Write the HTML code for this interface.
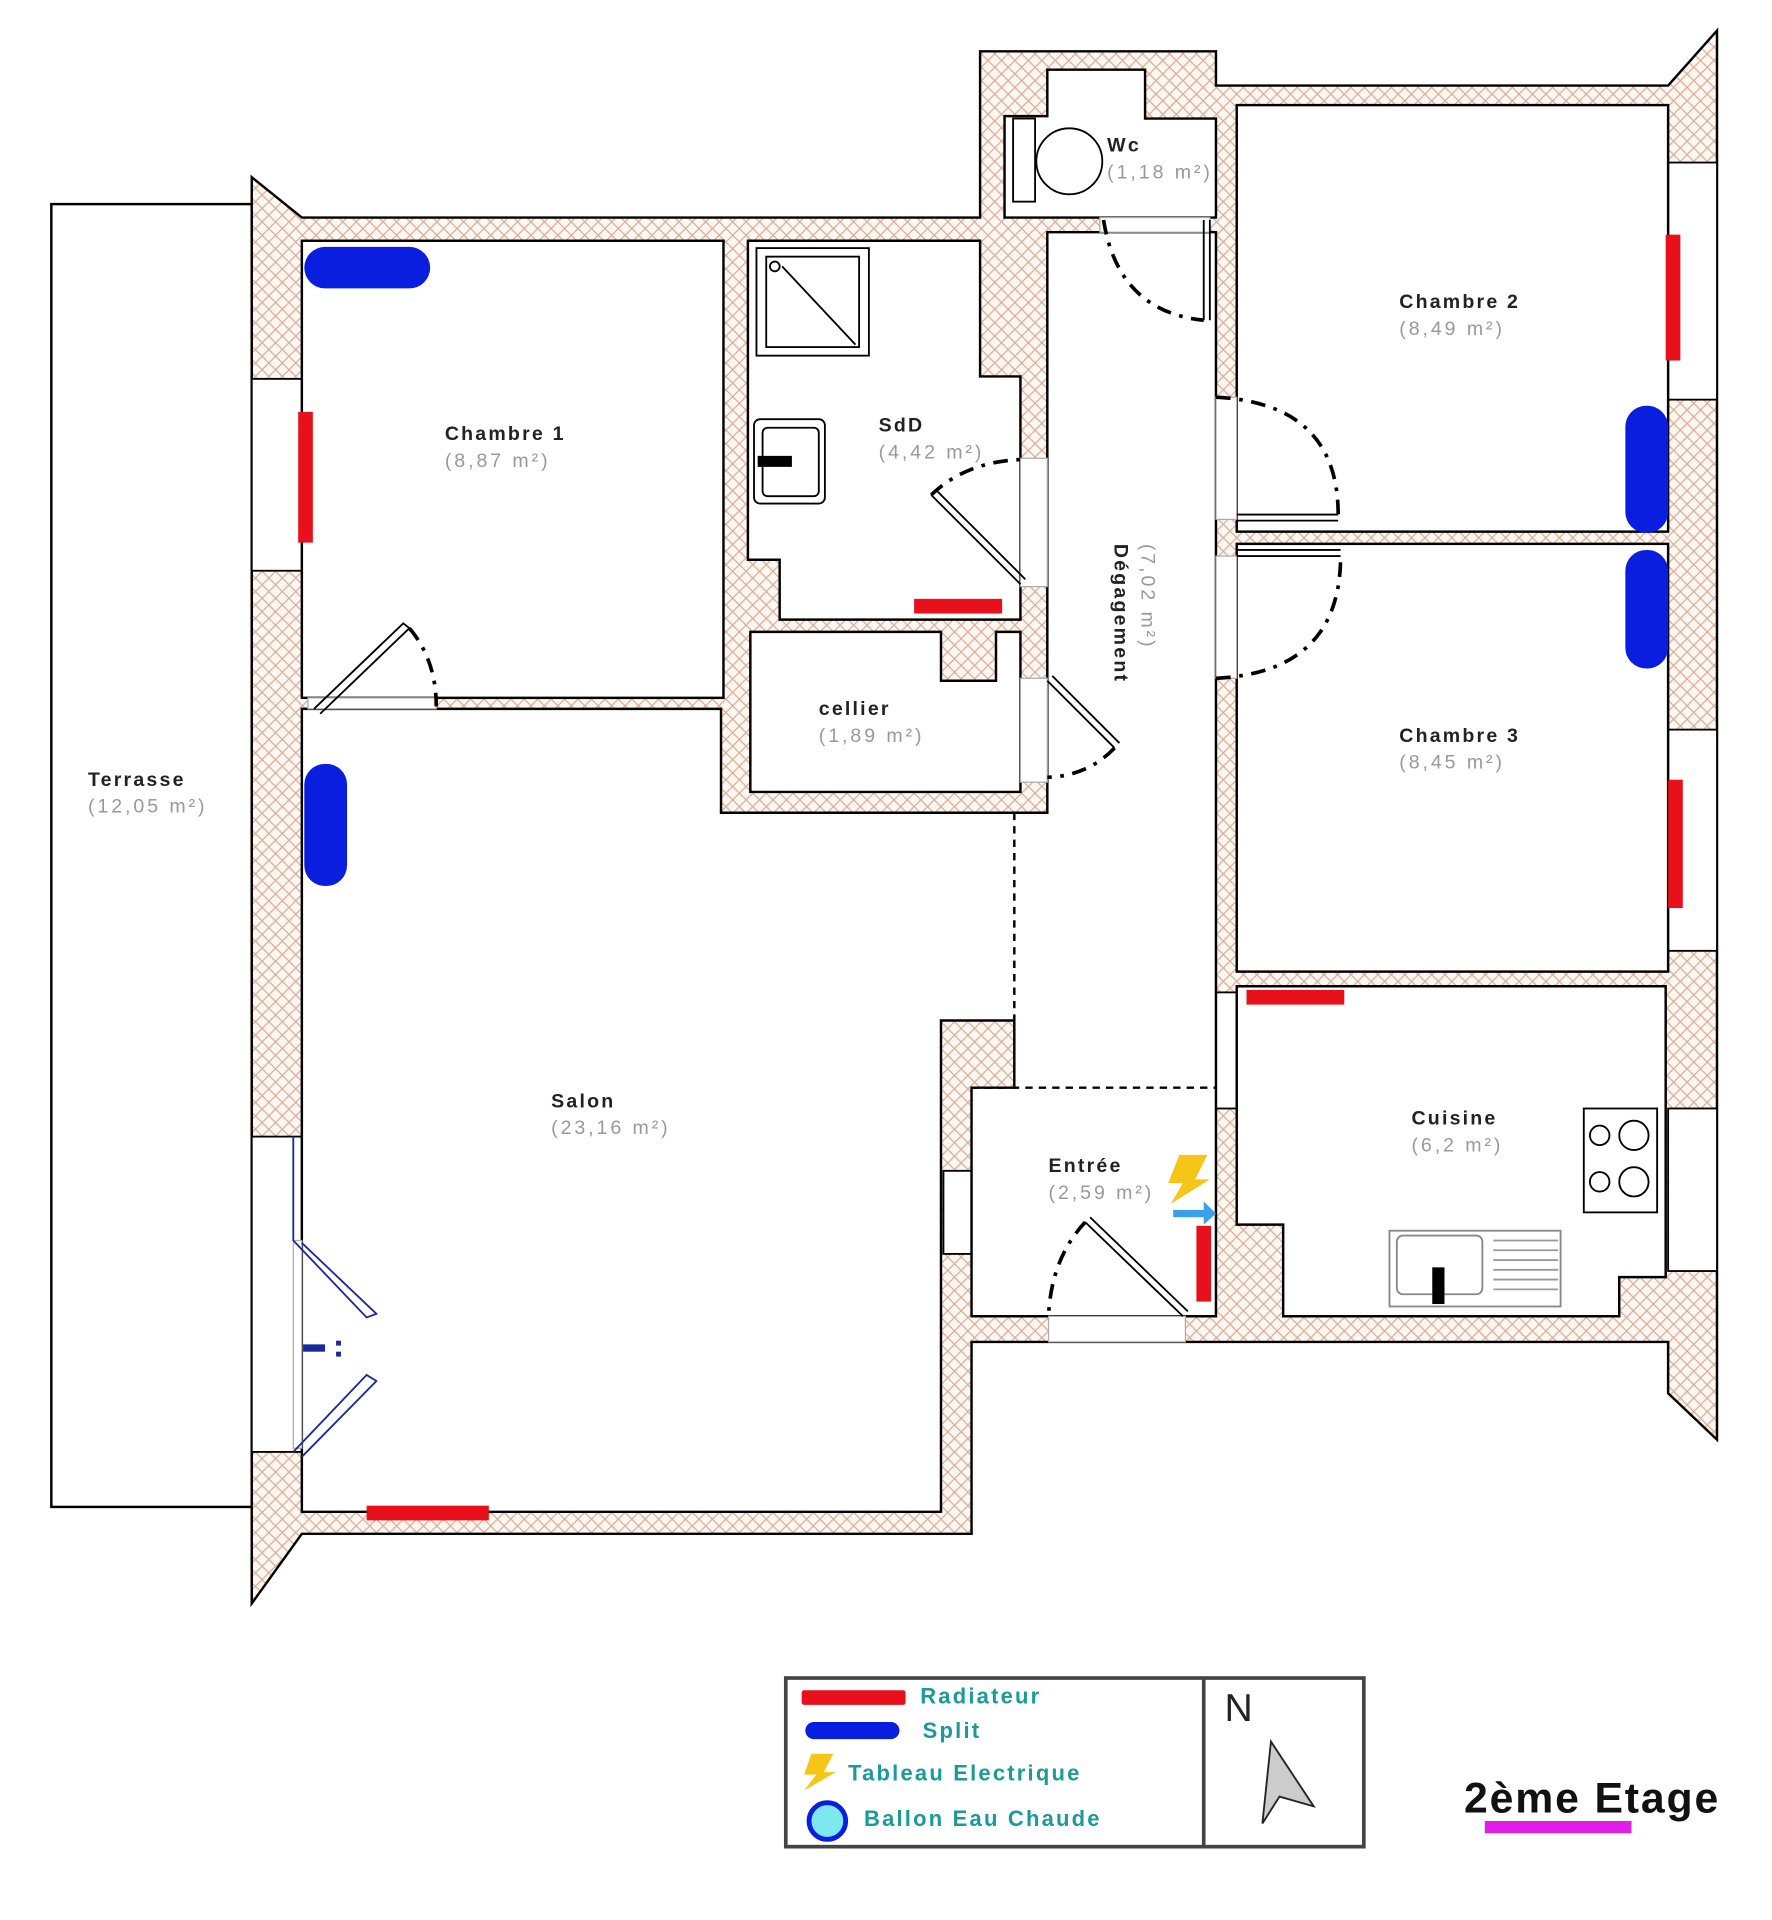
<!DOCTYPE html>
<html><head><meta charset="utf-8"><style>
html,body{margin:0;padding:0;background:#fff;}
svg{display:block;}
text{font-family:"Liberation Sans",sans-serif;}
.l{font-weight:bold;font-size:16px;fill:#222;letter-spacing:1.8px;}
.a{font-size:16px;fill:#999;letter-spacing:2.4px;}
.lg{font-weight:bold;font-size:18px;fill:#1a9a9a;letter-spacing:1.8px;}
</style></head><body>
<svg width="1772" height="1920" viewBox="0 0 1450 1571" preserveAspectRatio="none" xmlns="http://www.w3.org/2000/svg">
<defs>
<pattern id="h" width="11" height="11" patternUnits="userSpaceOnUse">
<rect width="11" height="11" fill="#fdf7f2"/>
<path d="M0,0L11,11M11,0L0,11" stroke="#dcab94" stroke-width="1"/>
</pattern>
</defs>
<rect width="1450" height="1571" fill="#fff"/>
<rect x="42" y="167" width="164" height="1066" fill="#fff" stroke="#000" stroke-width="2"/>
<text class="l" x="72" y="643">Terrasse</text><text class="a" x="72" y="665">(12,05 m²)</text>
<polygon points="206,145 247,178 802,178 802,42 995,42 995,70 1365,70 1405,25 1405,1178 1365,1140 1365,1098 795,1098 795,1255 247,1255 206,1312" fill="url(#h)" stroke="#000" stroke-width="2"/>
<g fill="#fff" stroke="#000" stroke-width="1.5">
<rect x="206" y="310" width="41" height="157"/>
<rect x="206" y="930" width="41" height="258"/>
<rect x="1365" y="133" width="40" height="194"/>
<rect x="1365" y="597" width="40" height="181"/>
<rect x="1365" y="907" width="40" height="133"/>
<rect x="772" y="958" width="23" height="68"/>
<rect x="995" y="812" width="17" height="95"/>
</g>
<g fill="#fff" stroke="#000" stroke-width="2">
<rect x="247" y="197" width="345" height="374"/>
<polygon points="247,580 590,580 590,665 857,665 857,190 995,190 995,1077 795,1077 795,890 830,890 830,835 770,835 770,1237 247,1237"/>
<polygon points="612,197 802,197 802,308 835,308 835,507 638,507 638,458 612,458"/>
<polygon points="614,517 770,517 770,557 815,557 815,517 835,517 835,648 614,648"/>
<polygon points="857,57 937,57 937,97 995,97 995,178 822,178 822,95 857,95"/>
<rect x="1012" y="86" width="353" height="349"/>
<rect x="1012" y="445" width="353" height="350"/>
<polygon points="1012,807 1363,807 1363,1045 1325,1045 1325,1077 1050,1077 1050,1002 1012,1002"/>
</g>
<g fill="#fff" stroke="#aaa" stroke-width="1">
<rect x="252" y="571" width="105" height="9"/>
<rect x="835" y="375" width="22" height="105"/>
<rect x="835" y="555" width="22" height="85"/>
<rect x="995" y="325" width="17" height="100"/>
<rect x="995" y="455" width="17" height="100"/>
<rect x="858" y="1077" width="112" height="21"/>
<rect x="900" y="178" width="90" height="12"/>
<rect x="240" y="1015" width="7" height="170"/>
</g>
<g stroke="#000" stroke-width="2" stroke-dasharray="6,5" fill="none">
<line x1="830" y1="665" x2="830" y2="835"/>
<line x1="795" y1="890" x2="995" y2="890"/>
</g>
<g stroke="#000" stroke-width="1.5" fill="none">
<path d="M257,580 L330,510 L335,514 L262,584"/>
<path d="M762,405 L835,478 M766,401 L839,474"/>
<path d="M857,557 L912,612 M861,553 L916,608"/>
<path d="M888,1000 L968,1077 M892,996 L972,1073"/>
<path d="M985,180 L985,262 M990,180 L990,262"/>
<path d="M1012,421 L1095,421 M1012,426 L1095,426"/>
<path d="M1012,450 L1097,450 M1012,455 L1097,455"/>
<path d="M240,930 L240,1015 L300,1078 L308,1075 L247,1017 M240,1188 L300,1125 L308,1130 L247,1192" stroke="#1a2a9a"/>
</g>
<g stroke="#000" stroke-width="3" fill="none" stroke-dasharray="12,7,3,7">
<path d="M335,514 Q357,540 357,578"/>
<path d="M762,405 Q790,378 835,376"/>
<path d="M912,612 Q890,635 857,636"/>
<path d="M888,1000 Q860,1030 858,1077"/>
<path d="M903,180 Q915,255 985,262"/>
<path d="M995,325 Q1095,330 1095,421"/>
<path d="M995,555 Q1097,550 1097,455"/>
</g>
<g fill="#1a2a9a"><rect x="248" y="1100" width="18" height="6"/><rect x="275" y="1097" width="4" height="4"/><rect x="275" y="1106" width="4" height="4"/></g>
<g fill="none" stroke="#000" stroke-width="1.5">
<rect x="619" y="203" width="92" height="88"/><rect x="627" y="210" width="76" height="74"/>
<line x1="640" y1="218" x2="700" y2="282"/><circle cx="634" cy="218" r="4"/>
<rect x="617" y="343" width="58" height="69" rx="5"/><rect x="624" y="350" width="46" height="56" rx="4"/>
<rect x="829" y="97" width="18" height="68"/><ellipse cx="875" cy="132" rx="27" ry="27"/>
<rect x="1296" y="907" width="60" height="85"/>
<circle cx="1309" cy="929" r="8"/><circle cx="1337" cy="929" r="12"/><circle cx="1309" cy="967" r="8"/><circle cx="1337" cy="967" r="12"/>
<rect x="1137" y="1007" width="140" height="62" stroke="#888"/><rect x="1143" y="1011" width="70" height="48" rx="5" stroke="#888"/>
</g>
<g stroke="#999" stroke-width="1.5"><line x1="1222" y1="1015" x2="1275" y2="1015"/><line x1="1222" y1="1023" x2="1275" y2="1023"/><line x1="1222" y1="1031" x2="1275" y2="1031"/><line x1="1222" y1="1039" x2="1275" y2="1039"/><line x1="1222" y1="1047" x2="1275" y2="1047"/><line x1="1222" y1="1055" x2="1275" y2="1055"/></g>
<rect x="1172" y="1037" width="10" height="30" fill="#000"/>
<rect x="620" y="373" width="28" height="9" fill="#000"/>
<g fill="#e8101a">
<rect x="244" y="337" width="12" height="107"/>
<rect x="1363" y="192" width="12" height="103"/>
<rect x="1365" y="638" width="12" height="105"/>
<rect x="1020" y="810" width="80" height="12"/>
<rect x="300" y="1232" width="100" height="12"/>
<rect x="748" y="490" width="72" height="12"/>
<rect x="979" y="1003" width="12" height="62"/>
</g>
<g fill="#0a1ee0">
<rect x="249" y="202" width="103" height="34" rx="17"/>
<rect x="249" y="625" width="35" height="100" rx="17"/>
<rect x="1330" y="332" width="35" height="104" rx="17"/>
<rect x="1330" y="450" width="35" height="97" rx="17"/>
</g>
<polygon points="965,945 988,945 978,965 990,965 958,985 968,968 956,968" fill="#f5c518"/>
<polygon points="960,990 985,990 985,983 995,993 985,1002 985,996 960,996" fill="#3aa0e8"/>
<text class="l" x="364" y="360">Chambre 1</text><text class="a" x="364" y="382">(8,87 m²)</text>
<text class="l" x="719" y="353">SdD</text><text class="a" x="719" y="375">(4,42 m²)</text>
<text class="l" x="906" y="124">Wc</text><text class="a" x="906" y="146">(1,18 m²)</text>
<text class="l" x="670" y="585">cellier</text><text class="a" x="670" y="607">(1,89 m²)</text>
<text class="l" x="1145" y="252">Chambre 2</text><text class="a" x="1145" y="274">(8,49 m²)</text>
<text class="l" x="1145" y="607">Chambre 3</text><text class="a" x="1145" y="629">(8,45 m²)</text>
<text class="l" x="451" y="906">Salon</text><text class="a" x="451" y="928">(23,16 m²)</text>
<text class="l" x="1155" y="920">Cuisine</text><text class="a" x="1155" y="942">(6,2 m²)</text>
<text class="l" x="858" y="959">Entrée</text><text class="a" x="858" y="981">(2,59 m²)</text>
<g transform="translate(912,445) rotate(90)"><text class="l" x="0" y="0">Dégagement</text><text class="a" x="0" y="-22">(7,02 m²)</text></g>
<rect x="643" y="1373" width="473" height="138" fill="#fff" stroke="#444" stroke-width="3"/>
<line x1="985" y1="1373" x2="985" y2="1511" stroke="#444" stroke-width="3"/>
<rect x="656" y="1383" width="85" height="12" fill="#e8101a" rx="2"/>
<rect x="659" y="1409" width="77" height="14" rx="7" fill="#0a1ee0"/>
<polygon points="664,1435 682,1435 674,1450 684,1450 658,1465 668,1452 658,1452" fill="#f5c518"/>
<circle cx="677" cy="1490" r="15" fill="#7ee8f0" stroke="#0a1ee0" stroke-width="4"/>
<text class="lg" x="753" y="1394">Radiateur</text>
<text class="lg" x="755" y="1422">Split</text>
<text class="lg" x="694" y="1457">Tableau Electrique</text>
<text class="lg" x="707" y="1494">Ballon Eau Chaude</text>
<text x="1002" y="1408" font-size="32" fill="#222">N</text>
<polygon points="1040,1425 1075,1478 1047,1470 1033,1492" fill="#ccc" stroke="#222" stroke-width="1.5"/>
<text x="1198" y="1483" font-size="35" font-weight="bold" fill="#111" letter-spacing="1.5">2ème Etage</text>
<rect x="1215" y="1490" width="120" height="10" fill="#e020e8"/>
</svg>
</body></html>
